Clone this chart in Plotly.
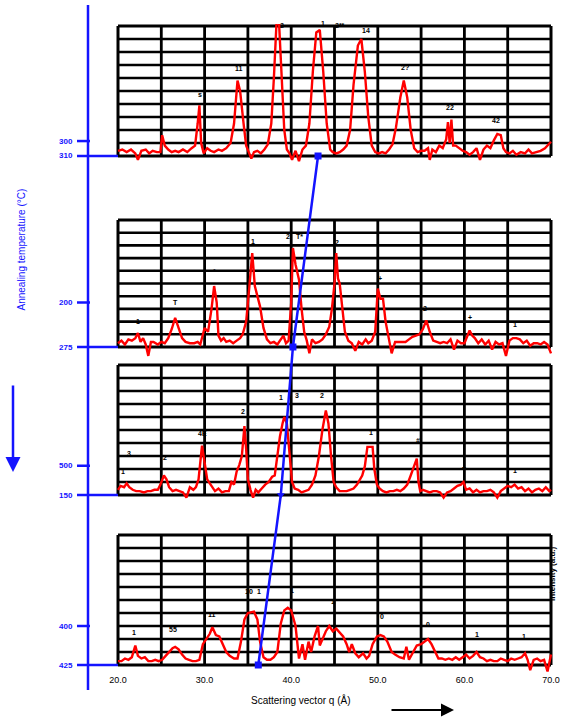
import plotly.graph_objects as go

# ---------------- data ----------------
x_tick_vals = [20, 30, 40, 50, 60, 70]
x_tick_text = ["20.0", "30.0", "40.0", "50.0", "60.0", "70.0"]

p1_x = [20.0,20.5,21.0,21.5,22.0,22.3,22.7,23.2,23.6,24.0,24.5,24.9,25.1,25.4,25.8,26.2,26.6,27.0,27.5,28.0,28.5,28.9,29.2,29.4,29.6,29.9,30.3,30.7,31.1,31.6,32.0,32.5,33.0,33.4,33.8,34.1,34.5,34.8,35.1,35.4,35.7,36.1,36.5,36.9,37.3,37.7,38.0,38.3,38.6,38.9,39.2,39.5,39.8,40.1,40.5,40.9,41.3,41.7,42.1,42.5,42.9,43.3,43.7,44.1,44.5,44.8,45.2,45.6,46.0,46.4,46.8,47.2,47.7,48.1,48.5,48.9,49.3,49.7,50.1,50.5,50.9,51.3,51.7,52.1,52.6,53.0,53.4,53.8,54.2,54.6,55.0,55.4,55.8,56.0,56.3,56.7,57.1,57.5,57.9,58.1,58.3,58.5,58.7,59.0,59.4,59.8,60.2,60.6,61.0,61.4,61.8,62.2,62.6,63.0,63.4,63.8,64.2,64.5,64.8,65.2,65.6,66.0,66.5,67.0,67.4,67.8,68.3,68.8,69.3,69.7,70.0]
p1_y = [0.4,0.5,0.3,0.5,0.2,-0.3,0.4,0.5,0.2,0.4,0.3,0.3,1.6,0.8,0.5,0.3,0.4,0.3,0.5,0.3,0.6,0.8,2.5,3.9,1.0,0.2,0.6,0.4,0.3,0.5,0.4,0.6,1.0,2.5,5.8,5.0,2.5,0.8,0.3,-0.2,0.3,0.4,0.2,0.5,0.9,2.5,6.0,10.2,10.2,6.0,2.0,0.5,0.2,-0.3,0.4,-0.4,0.5,0.8,2.5,6.5,9.5,9.7,6.5,2.5,0.5,0.3,0.2,0.3,0.5,0.8,2.0,5.5,8.5,9.0,6.5,3.0,0.8,0.3,0.2,0.3,0.2,0.5,0.9,2.2,4.5,5.8,4.5,2.0,0.6,0.3,0.4,0.4,0.6,-0.3,0.5,0.3,0.8,0.6,1.3,2.6,1.0,2.8,0.8,0.8,0.6,0.4,0.3,0.1,0.3,0.6,-0.3,0.5,0.8,0.6,1.2,1.7,1.6,0.6,0.3,0.2,0.4,0.1,0.3,0.2,0.5,0.2,0.3,0.4,0.6,0.9,1.1]

p2_x = [20.0,20.4,20.8,21.2,21.6,22.0,22.3,22.6,22.9,23.2,23.5,23.8,24.1,24.6,25.0,25.4,25.8,26.2,26.6,27.0,27.4,27.8,28.3,28.8,29.2,29.5,30.0,30.4,30.8,31.1,31.4,31.6,31.9,32.2,32.5,32.9,33.3,33.7,34.1,34.4,34.8,35.2,35.5,35.8,36.1,36.4,36.8,37.2,37.6,38.0,38.4,38.8,39.1,39.4,39.7,40.0,40.2,40.5,40.9,41.2,41.5,41.8,42.1,42.4,42.8,43.2,43.6,44.0,44.4,44.7,45.0,45.2,45.4,45.6,45.9,46.2,46.6,47.0,47.4,47.8,48.2,48.6,48.9,49.3,49.7,50.0,50.3,50.6,50.9,51.2,51.6,52.0,52.4,52.8,53.2,53.6,54.0,54.4,54.8,55.2,55.6,56.0,56.4,56.8,57.2,57.6,58.0,58.4,58.8,59.2,59.6,60.0,60.3,60.6,60.9,61.2,61.6,62.0,62.4,62.8,63.2,63.6,64.0,64.4,64.8,65.2,65.6,66.0,66.4,66.8,67.2,67.6,68.0,68.4,68.8,69.2,69.6,70.0]
p2_y = [0.3,0.5,0.2,0.6,0.5,0.7,1.1,0.4,0.7,0.2,-0.7,0.4,0.4,0.2,0.4,0.3,0.7,1.4,2.3,1.5,0.7,0.4,0.3,0.3,0.4,0.2,1.5,1.2,3.0,4.8,3.5,0.9,0.5,0.7,0.4,0.5,0.3,0.5,0.7,1.0,2.0,5.0,7.4,4.8,4.0,3.2,1.5,0.6,0.3,0.4,0.2,0.6,0.9,0.3,0.5,3.5,7.8,6.5,5.3,3.0,1.2,0.5,-0.5,0.6,0.3,0.4,0.6,1.0,1.6,3.0,5.0,7.4,5.4,5.0,3.0,1.2,0.5,0.3,-0.3,0.4,0.2,0.6,0.3,0.5,1.2,4.6,3.8,3.8,2.0,0.8,-0.5,0.4,0.4,0.4,0.4,0.6,0.8,0.9,1.0,1.4,2.1,1.2,0.5,0.4,0.3,0.4,0.3,0.6,-0.2,0.5,0.3,0.3,0.8,1.3,0.9,0.7,0.3,0.6,0.2,0.5,-0.2,0.4,0.2,0.3,-0.7,0.5,0.7,0.7,0.6,0.3,0.5,0.1,0.3,0.3,0.2,0.4,0.2,-0.5]

p3_x = [20.0,20.3,20.7,21.0,21.3,21.7,22.1,22.5,23.0,23.4,23.8,24.2,24.6,24.9,25.3,25.6,25.9,26.3,26.7,27.1,27.5,27.9,28.3,28.7,29.0,29.3,29.7,30.0,30.3,30.6,30.9,31.2,31.6,32.0,32.4,32.8,33.1,33.4,33.7,34.0,34.3,34.6,34.8,35.0,35.3,35.6,35.9,36.2,36.6,37.0,37.4,37.8,38.1,38.4,38.7,39.0,39.2,39.5,39.8,40.1,40.4,40.8,41.2,41.6,42.0,42.4,42.8,43.2,43.6,44.0,44.3,44.6,44.9,45.2,45.6,46.0,46.4,46.8,47.2,47.6,47.9,48.2,48.5,48.8,49.4,49.6,49.9,50.2,50.6,51.0,51.4,51.8,52.2,52.6,53.0,53.4,53.8,54.2,54.5,54.7,54.9,55.2,55.6,56.0,56.4,56.8,57.2,57.6,58.0,58.4,58.8,59.2,59.6,59.9,60.2,60.6,61.0,61.4,61.8,62.2,62.6,63.0,63.4,63.8,64.2,64.6,65.0,65.4,65.8,66.2,66.6,67.0,67.4,67.8,68.2,68.6,69.0,69.4,69.8,70.0]
p3_y = [0.4,0.7,0.6,0.9,0.6,0.4,0.3,0.3,0.2,0.3,0.3,0.4,0.4,0.8,1.5,1.2,0.6,0.3,0.4,0.3,0.2,-0.2,0.6,0.4,0.6,1.2,3.8,2.5,1.2,0.9,0.6,0.3,0.5,0.2,0.3,0.3,1.0,0.8,1.8,2.3,3.0,5.3,3.5,1.2,0.4,-0.2,0.4,0.2,0.5,0.8,1.0,1.4,1.5,3.0,4.5,5.5,6.0,5.5,3.0,1.0,0.5,0.4,0.2,0.3,0.4,0.8,1.5,3.0,5.0,6.5,5.5,3.0,1.0,0.6,0.3,0.3,0.3,0.4,0.5,0.8,1.2,1.5,2.2,3.7,3.7,2.0,0.8,0.5,0.3,0.2,0.3,0.3,0.4,0.3,0.5,0.8,1.5,2.2,2.8,1.0,0.3,0.4,0.3,0.2,0.3,0.3,0.2,-0.2,0.2,0.3,0.5,0.7,0.8,1.0,0.4,0.5,0.2,0.4,0.2,0.3,0.3,0.4,0.2,-0.2,0.3,0.5,0.7,0.6,0.8,0.5,0.6,0.3,0.5,0.2,0.4,0.5,0.3,0.6,0.3,0.4]

p4_x = [20.0,20.4,20.8,21.2,21.6,22.0,22.3,22.7,23.1,23.5,23.9,24.3,24.7,25.1,25.5,25.9,26.3,26.6,27.0,27.4,27.8,28.2,28.6,29.0,29.4,29.8,30.2,30.6,30.9,31.3,31.7,32.1,32.5,32.9,33.4,33.8,34.2,34.6,35.0,35.7,36.1,36.4,36.8,37.2,37.6,38.0,38.4,38.8,39.2,39.6,40.0,40.5,40.9,41.3,41.6,42.0,42.3,42.7,43.1,43.3,43.6,44.0,44.4,44.8,45.2,45.6,46.0,46.4,46.7,47.0,47.4,47.8,48.3,48.7,49.0,49.4,49.9,50.3,50.7,51.1,51.6,52.0,52.5,53.0,53.3,53.6,54.0,54.5,55.0,55.4,55.8,56.2,56.6,57.0,57.4,57.8,58.2,58.6,59.0,59.4,59.8,60.2,60.6,61.0,61.4,61.8,62.2,62.6,63.0,63.4,63.8,64.2,64.6,65.0,65.4,65.8,66.2,66.6,67.0,67.3,67.6,68.0,68.4,68.8,69.2,69.6,70.0]
p4_y = [0.3,0.3,0.5,0.4,0.6,1.5,0.7,0.5,0.6,0.3,0.3,0.4,0.3,0.4,0.7,1.0,1.3,1.4,1.2,0.8,0.5,0.4,0.3,0.3,0.4,1.6,2.0,2.4,2.9,2.3,2.2,1.6,1.0,0.7,0.5,0.5,1.8,3.5,4.0,4.1,3.5,1.8,0.6,0.4,0.4,0.6,1.0,3.2,4.2,4.4,4.2,3.0,0.5,1.6,0.4,1.8,1.0,2.2,3.0,1.5,2.0,2.6,3.0,2.6,2.8,2.5,2.2,1.6,1.0,1.6,0.9,0.6,0.9,0.5,0.7,1.6,2.2,2.3,2.2,1.8,1.0,0.8,0.6,0.5,1.4,0.4,0.9,1.5,1.6,1.8,2.0,1.6,1.0,0.5,0.5,0.4,0.5,0.4,0.6,0.4,0.6,0.8,0.5,0.7,1.0,0.6,0.5,0.3,0.4,0.3,0.3,0.5,0.4,0.3,0.5,0.4,0.5,0.6,0.9,0.4,-0.4,0.4,0.5,0.3,0.4,-0.5,0.8]

# peak labels per panel: (x, y, text)
p1_labels = [(29.5, 4.3, "s"), (34.0, 6.3, "11"), (38.9, 9.6, "2"), (43.7, 9.8, "1"), (45.6, 9.6, "2**"), (48.6, 9.2, "14"), (53.1, 6.4, "2?"), (58.3, 3.3, "22"), (63.6, 2.3, "42")]
p2_labels = [(22.3, 1.6, "1"), (26.6, 3.1, "T"), (31.1, 5.5, "*"), (35.6, 7.9, "1"), (39.6, 8.3, "2"), (41.0, 8.3, "T*"), (45.3, 7.8, "2"), (50.2, 5.0, "+"), (55.5, 2.6, "2"), (60.6, 1.9, "+"), (65.8, 1.3, "1")]
p3_labels = [(21.3, 2.8, "3"), (20.6, 1.4, "1"), (25.4, 2.5, "2"), (29.8, 4.3, "4E"), (34.4, 6.0, "2"), (38.8, 7.1, "1"), (40.7, 7.2, "3"), (43.5, 7.2, "2"), (49.2, 4.4, "1"), (54.6, 3.8, "#"), (60.0, 1.7, "+"), (65.9, 1.5, "1")]
p4_labels = [(21.9, 2.1, "1"), (26.3, 2.3, "55"), (30.9, 3.5, "11"), (35.1, 5.2, "10"), (36.3, 5.2, "1"), (40.1, 5.3, "1"), (44.8, 4.5, "1"), (50.5, 3.3, "0"), (55.8, 2.7, "0"), (61.4, 1.9, "1"), (66.9, 1.8, "1")]

# blue offset axis: baseline label, upper tick value (panel units) and label
blue_base_labels = ["310", "275", "150", "425"]
blue_upper_vals = [1.15, 3.5, 2.25, 3.0]
blue_upper_labels = ["300", "200", "500", "400"]

# peak-shift guide line positions (one per panel)
shift_x = [43.1, 40.2, 38.8, 36.2]

# ---------------- layout geometry ----------------
W, H = 566, 719
RED = "#ff0000"
BLUE = "#1414ff"
FONT = "Liberation Sans, Arial, sans-serif"

def pxx(p):
    return p / W

def pxy(p):
    return 1 - p / H

x_left_px, x_right_px = 118, 551
unit_x = (x_right_px - x_left_px) / 50.0
xr = [19.7, 70.3]
x_dom = [pxx(x_left_px - 0.3 * unit_x), pxx(x_right_px + 0.3 * unit_x)]

tops = [26, 220, 365, 535]
bottoms = [156, 347, 495, 665]
ymax = 10.15
ymin = -1.0

series = [(p1_x, p1_y), (p2_x, p2_y), (p3_x, p3_y), (p4_x, p4_y)]
labels = [p1_labels, p2_labels, p3_labels, p4_labels]

fig = go.Figure()
shapes = []
annotations = []
layout_axes = {}
base_paper = []

for i in range(4):
    n = i + 1
    xa = "x" if n == 1 else f"x{n}"
    ya = "y" if n == 1 else f"y{n}"
    unit_y = (bottoms[i] - tops[i]) / 10.0
    y_dom = [pxy(bottoms[i] - ymin * unit_y), pxy(tops[i] - (ymax - 10) * unit_y)]
    base_paper.append(pxy(bottoms[i]))

    xs, ys = series[i]
    fig.add_trace(go.Scatter(x=xs, y=ys, mode="lines", xaxis=xa, yaxis=ya,
                             line=dict(color=RED, width=2.4), hoverinfo="skip",
                             showlegend=False))

    xkey = "xaxis" if n == 1 else f"xaxis{n}"
    ykey = "yaxis" if n == 1 else f"yaxis{n}"
    xa_cfg = dict(domain=x_dom, range=xr, showgrid=False, zeroline=False,
                  showline=False, ticks="", showticklabels=False, fixedrange=True)
    if n == 4:
        xa_cfg.update(anchor="free", position=pxy(bottoms[i]), showticklabels=True,
                      tickvals=x_tick_vals, ticktext=x_tick_text, automargin=False,
                      ticks="outside", ticklen=6, tickcolor="rgba(0,0,0,0)",
                      tickfont=dict(family=FONT, size=9, color="black"))
    else:
        xa_cfg.update(anchor=ya)
    layout_axes[xkey] = xa_cfg
    layout_axes[ykey] = dict(domain=y_dom, range=[ymin, ymax], anchor=xa,
                             showgrid=False, zeroline=False, showline=False,
                             ticks="", showticklabels=False, fixedrange=True)

    # grid
    for r in range(11):
        w = 3 if r in (0, 10) else 2.6
        shapes.append(dict(type="line", xref=xa, yref=ya, x0=20, x1=70, y0=r, y1=r,
                           line=dict(color="black", width=w), layer="below"))
    for c in range(11):
        xv = 20 + 5 * c
        w = 3 if c in (0, 10) else 2.8
        shapes.append(dict(type="line", xref=xa, yref=ya, x0=xv, x1=xv, y0=0, y1=10,
                           line=dict(color="black", width=w), layer="below"))

    # peak labels
    for (lx, ly, lt) in labels[i]:
        annotations.append(dict(x=lx, y=ly, xref=xa, yref=ya, text=f"<b>{lt}</b>",
                                showarrow=False, yanchor="bottom",
                                font=dict(family=FONT, size=7, color="black")))

    # blue offset axis pieces
    shapes.append(dict(type="line", xref="paper", yref=ya, x0=pxx(77), x1=pxx(x_left_px),
                       y0=0, y1=0, line=dict(color=BLUE, width=2.5)))
    shapes.append(dict(type="line", xref="paper", yref=ya, x0=pxx(77), x1=pxx(90),
                       y0=blue_upper_vals[i], y1=blue_upper_vals[i],
                       line=dict(color=BLUE, width=2.5)))
    annotations.append(dict(x=pxx(75), y=0, xref="paper", yref=ya, xanchor="right",
                            text=f"<b>{blue_base_labels[i]}</b>", showarrow=False,
                            font=dict(family=FONT, size=8, color=BLUE)))
    annotations.append(dict(x=pxx(75), y=blue_upper_vals[i], xref="paper", yref=ya,
                            xanchor="right", text=f"<b>{blue_upper_labels[i]}</b>",
                            showarrow=False, font=dict(family=FONT, size=8, color=BLUE)))

# blue vertical axis line
shapes.append(dict(type="line", xref="paper", yref="paper", x0=pxx(88), x1=pxx(88),
                   y0=pxy(690), y1=pxy(5), line=dict(color=BLUE, width=2.5)))

# peak-shift guide line on a full-height overlay axis
fig.add_trace(go.Scatter(x=shift_x, y=base_paper, mode="lines+markers",
                         xaxis="x5", yaxis="y5",
                         line=dict(color=BLUE, width=2.5),
                         marker=dict(symbol=["square", "square", "triangle-down", "square"],
                                     size=7, color=BLUE),
                         hoverinfo="skip", showlegend=False))
layout_axes["xaxis5"] = dict(domain=x_dom, range=xr, anchor="y5", visible=False, fixedrange=True)
layout_axes["yaxis5"] = dict(domain=[0, 1], range=[0, 1], anchor="x5", visible=False, fixedrange=True)

# titles and arrows
annotations.append(dict(x=pxx(13), y=pxy(250), xref="paper", yref="paper",
                        text="Annealing temperature (°C)", textangle=-90, showarrow=False,
                        font=dict(family=FONT, size=10, color=BLUE)))
annotations.append(dict(x=pxx(13), y=pxy(472), xref="paper", yref="paper", text="",
                        showarrow=True, ax=0, ay=-88, arrowcolor=BLUE, arrowwidth=2.5,
                        arrowhead=2, arrowsize=1.2))
annotations.append(dict(x=pxx(300), y=pxy(708), xref="paper", yref="paper",
                        text="Scattering vector q (Å)", showarrow=False,
                        font=dict(family=FONT, size=10, color="black")))
annotations.append(dict(x=pxx(454), y=pxy(710), xref="paper", yref="paper", text="",
                        showarrow=True, ax=-64, ay=0, arrowcolor="black", arrowwidth=2,
                        arrowhead=2, arrowsize=1.3))
annotations.append(dict(x=pxx(559), y=pxy(603), xref="paper", yref="paper",
                        text="<b>Intensity (a.u.)</b>", textangle=-90, showarrow=False,
                        font=dict(family=FONT, size=8, color="black")))

fig.update_layout(width=W, height=H,
                  margin=dict(l=0, r=0, t=0, b=0, pad=0, autoexpand=False),
                  paper_bgcolor="white", plot_bgcolor="rgba(0,0,0,0)",
                  shapes=shapes, annotations=annotations, showlegend=False,
                  **layout_axes)

fig.write_html("out.html", config={"displayModeBar": False},
               post_script="document.body.style.margin='0';document.body.style.overflow='hidden';")
